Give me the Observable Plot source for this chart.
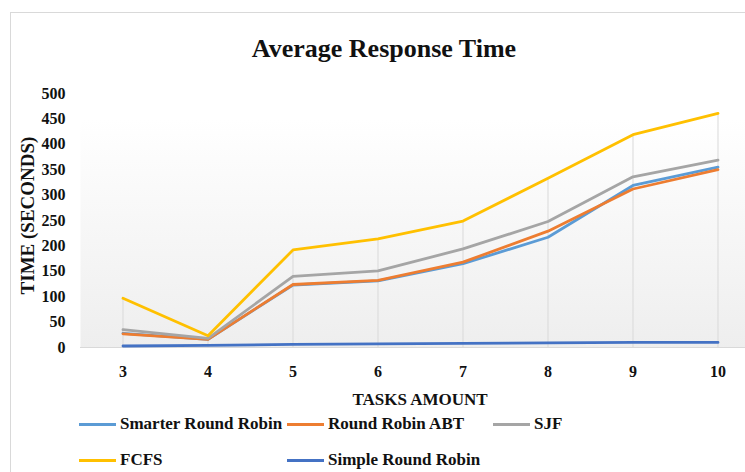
<!DOCTYPE html>
<html>
<head>
<meta charset="utf-8">
<script src="https://cdn.jsdelivr.net/npm/d3@7"></script>
<script src="https://cdn.jsdelivr.net/npm/@observablehq/plot@0.6"></script>
<style>
  html, body { margin: 0; padding: 0; background: #fff; overflow: hidden; }
  #wrap { position: relative; width: 745px; height: 472px; overflow: hidden; font-family: "Liberation Serif", "Times New Roman", serif; }
  #border { position: absolute; left: 10px; top: 12px; width: 900px; height: 600px; border: 1px solid #d9d9d9; box-sizing: border-box; }
  #chart { position: absolute; left: 0; top: 0; }
  .leg { position: absolute; display: flex; align-items: center; font-weight: bold; font-size: 17px; color: #111; white-space: nowrap; }
  .sw { width: 37px; height: 3px; margin-right: 4px; }
</style>
</head>
<body>
<div id="wrap">
  <div id="border"></div>
  <div id="chart"></div>
</div>
<script>
const chartTitle = "Average Response Time";
const xTitle = "TASKS AMOUNT";
const yTitle = "TIME (SECONDS)";
const tasks = [3, 4, 5, 6, 7, 8, 9, 10];
const yTicks = [0, 50, 100, 150, 200, 250, 300, 350, 400, 450, 500];
const seriesNames = ["Smarter Round Robin", "Round Robin ABT", "SJF", "FCFS", "Simple Round Robin"];
const seriesColors = ["#5B9BD5", "#ED7D31", "#A5A5A5", "#FFC000", "#4472C4"];
const smarterRR = [28, 16, 123, 131, 165, 217, 319, 355];
const rrABT = [27, 16, 124, 132, 168, 229, 312, 350];
const sjf = [35, 18, 140, 151, 194, 248, 336, 369];
const fcfs = [97, 23, 192, 214, 249, 333, 419, 461];
const simpleRR = [3, 4, 6, 7, 8, 9, 10, 10];

const seriesValues = [smarterRR, rrABT, sjf, fcfs, simpleRR];
const long = [];
seriesNames.forEach((name, i) => {
  tasks.forEach((t, j) => long.push({series: name, task: t, value: seriesValues[i][j]}));
});
const drops = tasks.map((t, j) => ({task: t, max: d3.max(seriesValues, s => s[j])}));

const plot = Plot.plot({
  width: 745,
  height: 412,
  marginLeft: 80,
  marginRight: 0,
  marginTop: 93,
  marginBottom: 65,
  x: {domain: [2.5, 10.5], range: [80, 760]},
  y: {domain: [0, 500]},
  color: {domain: seriesNames, range: seriesColors},
  style: {fontFamily: "'Liberation Serif', 'Times New Roman', serif", fontWeight: "bold", fontSize: "16px", color: "#111", background: "transparent", overflow: "visible"},
  marks: [
    Plot.frame({fill: "url(#bgGrad)", stroke: "none"}),
    Plot.ruleX(drops, {x: "task", y1: 0, y2: "max", stroke: "#d9d9d9", strokeWidth: 1}),
    Plot.ruleY([0], {stroke: "#d9d9d9", strokeWidth: 1}),
    Plot.line(long, {x: "task", y: "value", z: "series", stroke: "series", strokeWidth: 2.8, strokeLinejoin: "round", strokeLinecap: "round"}),
    Plot.axisX({ticks: tasks, tickSize: 0, tickPadding: 18, tickFormat: d => String(d), label: null, fontSize: 16}),
    Plot.axisY({ticks: yTicks, tickSize: 0, tickPadding: 15, label: null, fontSize: 16}),
    Plot.text([chartTitle], {frameAnchor: "top", dx: -29, dy: -45, lineAnchor: "middle", textAnchor: "middle", fontSize: 26}),
    Plot.text([xTitle], {frameAnchor: "bottom", dx: 7, dy: 52, lineAnchor: "middle", textAnchor: "middle", fontSize: 17}),
    Plot.text([yTitle], {frameAnchor: "left", rotate: -90, dx: -53, dy: -5, lineAnchor: "middle", textAnchor: "middle", fontSize: 19})
  ]
});

const svg = d3.select(plot);
const grad = svg.insert("defs", ":first-child").append("linearGradient")
  .attr("id", "bgGrad").attr("x1", 0).attr("y1", 0).attr("x2", 0).attr("y2", 1);
grad.append("stop").attr("offset", "0%").attr("stop-color", "#ffffff");
grad.append("stop").attr("offset", "10%").attr("stop-color", "#ffffff");
grad.append("stop").attr("offset", "100%").attr("stop-color", "#eeeeee");

document.getElementById("chart").appendChild(plot);

// legend
const legendPos = [[79, 424], [287, 424], [493, 424], [79, 460], [287, 460]];
const wrap = document.getElementById("wrap");
seriesNames.forEach((name, i) => {
  const item = document.createElement("div");
  item.className = "leg";
  item.style.left = legendPos[i][0] + "px";
  item.style.top = (legendPos[i][1] - 11) + "px";
  item.style.height = "22px";
  const sw = document.createElement("span");
  sw.className = "sw";
  sw.style.background = seriesColors[i];
  const tx = document.createElement("span");
  tx.textContent = name;
  item.appendChild(sw);
  item.appendChild(tx);
  wrap.appendChild(item);
});
</script>
</body>
</html>
